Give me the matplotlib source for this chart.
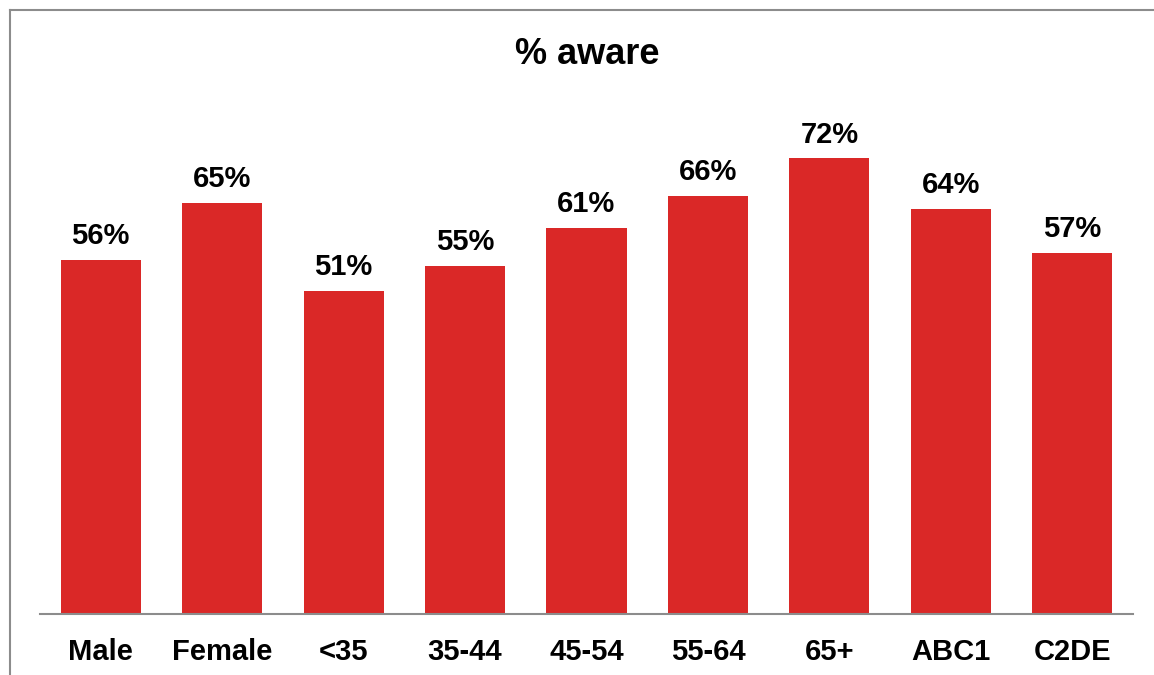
import matplotlib
matplotlib.use('Agg')
import matplotlib.pyplot as plt
from matplotlib.lines import Line2D

W, H = 1154, 675

categories = ['Male', 'Female', '<35', '35-44', '45-54', '55-64', '65+', 'ABC1', 'C2DE']
aware = [56, 65, 51, 55, 61, 66, 72, 64, 57]

plt.rcParams['font.family'] = ['Liberation Sans', 'DejaVu Sans']

fig = plt.figure(figsize=(W / 100, H / 100), dpi=100)
ax = fig.add_axes([40 / W, (H - 614) / H, (1133 - 40) / W, (614 - 107.6) / H])

x = range(len(categories))
bars = ax.bar(x, aware, width=0.66, color='#DA2827')
for b, v in zip(bars, aware):
    ax.annotate('{}%'.format(v), (b.get_x() + b.get_width() / 2, v),
                xytext=(0, 7), textcoords='offset points',
                ha='center', va='bottom', fontsize=21, fontweight='bold')

ax.set_xlim(-0.5, len(categories) - 0.5)
ax.set_ylim(0, 80)
ax.set_xticks(list(x))
ax.set_xticklabels(categories, fontsize=21, fontweight='bold')
ax.tick_params(axis='x', length=0, pad=17)
ax.set_yticks([])
for s in ['top', 'right', 'left']:
    ax.spines[s].set_visible(False)
ax.spines['bottom'].set_color('#8c8c8c')
ax.spines['bottom'].set_linewidth(1.5)

fig.text(587 / W, 1 - 55 / H, '% aware', ha='center', va='center',
         fontsize=26, fontweight='bold')

# outer frame (top and left edges only visible)
fig.add_artist(Line2D([10 / W, 1], [1 - 10 / H, 1 - 10 / H], color='#8c8c8c', lw=1.5))
fig.add_artist(Line2D([10 / W, 10 / W], [0, 1 - 10 / H], color='#8c8c8c', lw=1.5))

fig.savefig('out.png', dpi=100)
